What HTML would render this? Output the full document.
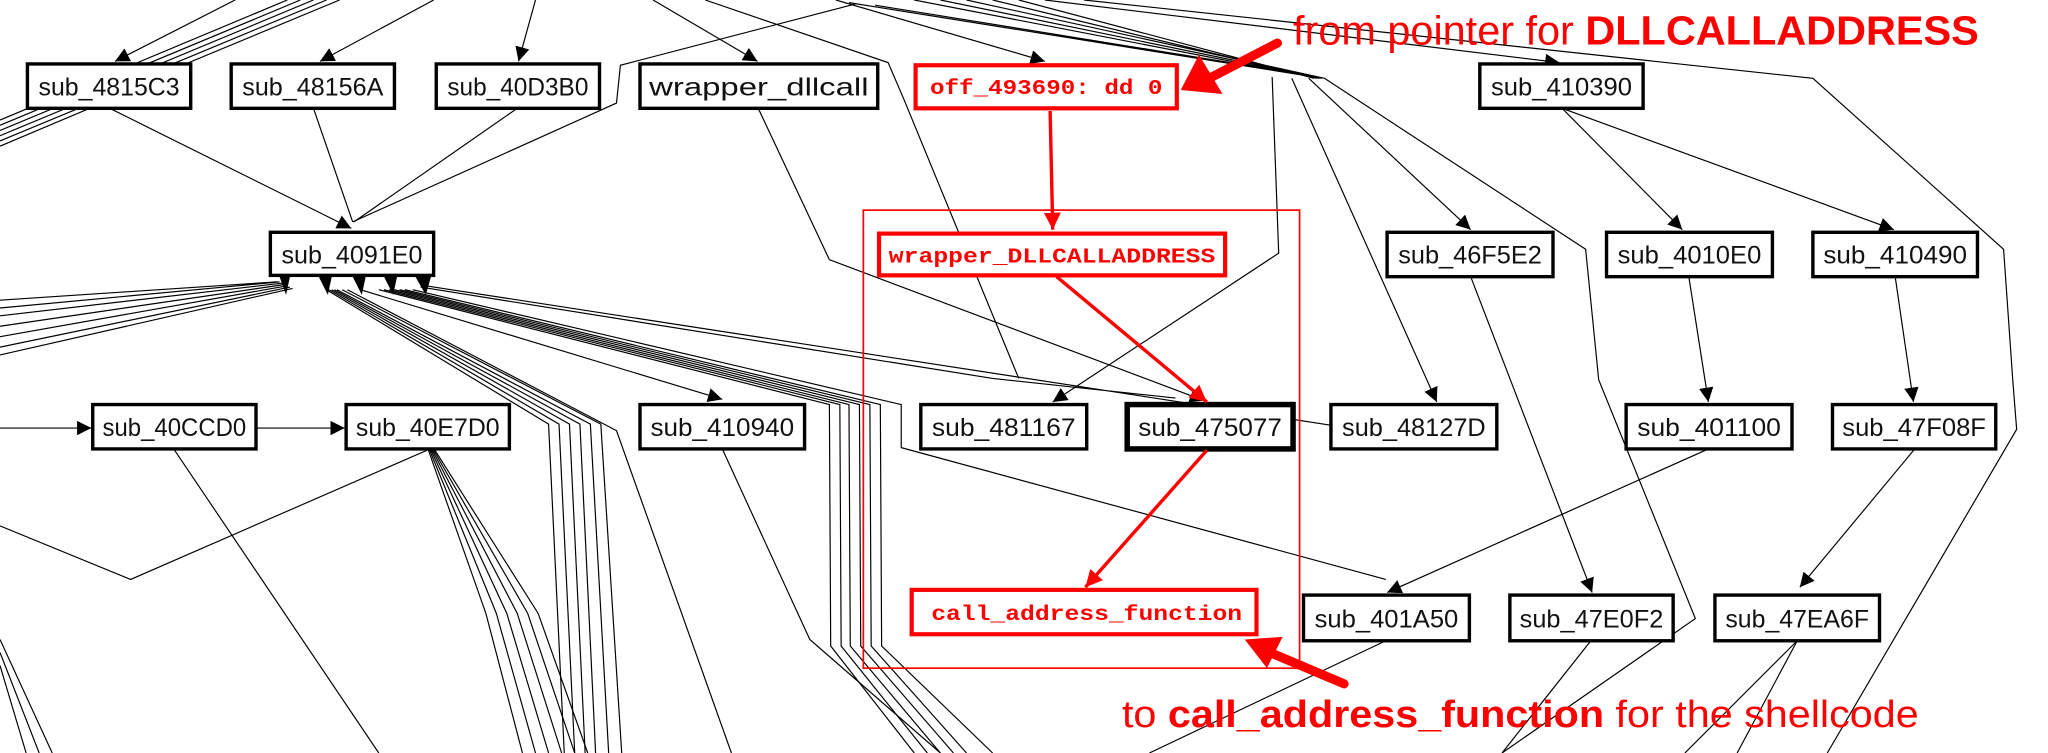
<!DOCTYPE html>
<html><head><meta charset="utf-8">
<style>
html,body{margin:0;padding:0;background:#fff;}
svg{display:block;}
.b{fill:#fff;stroke:#000;stroke-width:2.6;}
.t{font-family:"Liberation Sans Narrow","Liberation Sans",sans-serif;font-size:19px;fill:#111;}
.r{fill:#fff;stroke:#f00;stroke-width:3.2;}
.rt{font-family:"Liberation Mono",monospace;font-weight:bold;font-size:16px;fill:#f00;}
.l{fill:none;stroke:#000;stroke-width:0.9;}
.big{font-family:"Liberation Sans",sans-serif;fill:#f00;}
</style></head>
<body>
<svg width="2048" height="753" viewBox="0 0 1568 577" preserveAspectRatio="none" xmlns="http://www.w3.org/2000/svg">
<defs>
<marker id="a" viewBox="0 0 10 10" refX="10" refY="5" markerWidth="11" markerHeight="11" markerUnits="userSpaceOnUse" orient="auto"><path d="M0,0L10,5L0,10z" fill="#000"/></marker>
<marker id="ra" viewBox="0 0 10 10" refX="10" refY="5" markerWidth="13" markerHeight="13" markerUnits="userSpaceOnUse" orient="auto"><path d="M0,0L10,5L0,10z" fill="#f00"/></marker>
</defs>

<g class="l">
<path d="M0,100 L240,0 M0,104 L250,0 M0,108 L260,0 M0,96 L230,0 M0,92 L220,0"/>
<path d="M0,112 L90,74"/>
<path d="M180,0 L88,47" marker-end="url(#a)"/>
<path d="M332,0 L245,47" marker-end="url(#a)"/>
<path d="M410,0 L397,47" marker-end="url(#a)"/>
<path d="M500,0 L580,47" marker-end="url(#a)"/>
<path d="M640,0 L800,47" marker-end="url(#a)"/>
<path d="M540,0 L680,48 L692,76 L780,290"/>
<path d="M655,3 L475,50 L472,79 L270,170"/>
<path d="M700,0 L1010,60 M720,0 L1012,60 M740,0 L1014,60 M760,0 L1008,60 M780,0 L1006,60 M650,2 L1000,58 M670,4 L1004,58"/>
<path d="M800,0 L1194,48" marker-end="url(#a)"/>
<path d="M830,0 L1388,60 L1534,191 L1541,291 L1544,329 L1399,577"/>
<path d="M974,59 L979,194 L806,308" marker-end="url(#a)"/>
<path d="M989,60 L1100,308" marker-end="url(#a)"/>
<path d="M1002,60 L1126,176" marker-end="url(#a)"/>
<path d="M1014,60 L1214,191 L1224,291 L1298,474 L1150,577"/>
<path d="M84,83 L269,175" marker-end="url(#a)"/>
<path d="M240,83 L270,170"/>
<path d="M396,83 L271,170"/>
<path d="M581,84 L635,199 L922,307" marker-end="url(#a)"/>
<path d="M1196,83 L1288,176" marker-end="url(#a)"/>
<path d="M1196,83 L1450,176" marker-end="url(#a)"/>
<path d="M1126,212 L1219,454" marker-end="url(#a)"/>
<path d="M1293,212 L1308,308" marker-end="url(#a)"/>
<path d="M1451,212 L1465,308" marker-end="url(#a)"/>
<path d="M1308,344 L1062,454" marker-end="url(#a)"/>
<path d="M1466,344 L1378,450" marker-end="url(#a)"/>
<path d="M0,230 L212,216 M0,236 L214,216 M0,242 L216,217 M0,250 L218,218 M0,258 L220,219 M0,266 L222,220 M0,272 L224,221"/>
<path d="M250,222 L420,325 L432,577 M252,222 L428,325 L440,577 M254,222 L436,325 L448,577 M256,222 L444,325 L456,577 M258,222 L452,325 L466,577 M262,222 L460,325 L476,577 M266,222 L472,330 L560,577"/>
<path d="M276,222 L553,306" marker-end="url(#a)"/>
<path d="M290,222 L635,310 L636,495 L700,577 M294,222 L643,310 L644,495 L710,577 M298,222 L650,310 L651,495 L720,577 M302,222 L658,310 L659,495 L730,577 M306,222 L666,310 L667,495 L740,577 M310,222 L674,310 L675,495 L760,577 M316,222 L690,310 L690,343 L1061,444"/>
<path d="M322,220 L760,290 L900,305 M326,219 L1020,326"/>
<path d="M0,328 L70,328" marker-end="url(#a)"/>
<path d="M196,328 L264,328" marker-end="url(#a)"/>
<path d="M133,344 L290,577"/>
<path d="M327,345 L100,444 L0,403"/>
<path d="M328,345 L372,470 L400,577 M329,345 L380,470 L410,577 M330,345 L388,470 L420,577 M331,345 L396,470 L430,577 M332,345 L404,470 L440,577 M333,345 L412,470 L450,577"/>
<path d="M553,344 L620,490 L720,577"/>
<path d="M0,490 L40,577 M0,500 L30,577 M0,510 L20,577"/>
<path d="M1061,491 L880,577 M1218,491 L1150,577 M1376,491 L1290,577 M1376,491 L1330,577"/>
</g>

<rect x="661" y="161" width="334" height="351" fill="none" stroke="#f00" stroke-width="1.3"/>

<g>
<rect class="b" x="21" y="49" width="125" height="34"/><text class="t" x="83.5" y="73" text-anchor="middle" textLength="108" lengthAdjust="spacingAndGlyphs">sub_4815C3</text>
<rect class="b" x="177" y="49" width="125" height="34"/><text class="t" x="239.5" y="73" text-anchor="middle" textLength="108" lengthAdjust="spacingAndGlyphs">sub_48156A</text>
<rect class="b" x="334" y="49" width="125" height="34"/><text class="t" x="396.5" y="73" text-anchor="middle" textLength="108" lengthAdjust="spacingAndGlyphs">sub_40D3B0</text>
<rect class="b" x="490" y="49" width="182" height="34"/><text class="t" x="581" y="73" text-anchor="middle" textLength="168" lengthAdjust="spacingAndGlyphs">wrapper_dllcall</text>
<rect class="b" x="1133" y="49" width="125" height="34"/><text class="t" x="1195.5" y="73" text-anchor="middle" textLength="108" lengthAdjust="spacingAndGlyphs">sub_410390</text>

<rect class="b" x="207" y="178" width="125" height="33"/><text class="t" x="269.5" y="202" text-anchor="middle" textLength="108" lengthAdjust="spacingAndGlyphs">sub_4091E0</text>
<path d="M214,212 L222,212 L219,226z M244,212 L254,212 L251,226z M270,212 L280,212 L277,226z M294,212 L304,212 L301,226z M318,212 L330,212 L326,226z" fill="#000"/>
<rect class="b" x="1062" y="178" width="127" height="34"/><text class="t" x="1125.5" y="202" text-anchor="middle" textLength="110" lengthAdjust="spacingAndGlyphs">sub_46F5E2</text>
<rect class="b" x="1230" y="178" width="127" height="34"/><text class="t" x="1293.5" y="202" text-anchor="middle" textLength="110" lengthAdjust="spacingAndGlyphs">sub_4010E0</text>
<rect class="b" x="1388" y="178" width="126" height="34"/><text class="t" x="1451" y="202" text-anchor="middle" textLength="110" lengthAdjust="spacingAndGlyphs">sub_410490</text>

<rect class="b" x="71" y="310" width="125" height="34"/><text class="t" x="133.5" y="334" text-anchor="middle" textLength="110" lengthAdjust="spacingAndGlyphs">sub_40CCD0</text>
<rect class="b" x="265" y="310" width="125" height="34"/><text class="t" x="327.5" y="334" text-anchor="middle" textLength="110" lengthAdjust="spacingAndGlyphs">sub_40E7D0</text>
<rect class="b" x="490" y="310" width="126" height="34"/><text class="t" x="553" y="334" text-anchor="middle" textLength="110" lengthAdjust="spacingAndGlyphs">sub_410940</text>
<rect class="b" x="705" y="310" width="127" height="34"/><text class="t" x="768.5" y="334" text-anchor="middle" textLength="110" lengthAdjust="spacingAndGlyphs">sub_481167</text>
<rect class="b" x="863" y="310" width="127" height="34" style="stroke-width:4.2"/><text class="t" x="926.5" y="334" text-anchor="middle" textLength="110" lengthAdjust="spacingAndGlyphs">sub_475077</text>
<rect class="b" x="1019" y="310" width="127" height="34"/><text class="t" x="1082.5" y="334" text-anchor="middle" textLength="110" lengthAdjust="spacingAndGlyphs">sub_48127D</text>
<rect class="b" x="1245" y="310" width="127" height="34"/><text class="t" x="1308.5" y="334" text-anchor="middle" textLength="110" lengthAdjust="spacingAndGlyphs">sub_401100</text>
<rect class="b" x="1403" y="310" width="125" height="34"/><text class="t" x="1465.5" y="334" text-anchor="middle" textLength="110" lengthAdjust="spacingAndGlyphs">sub_47F08F</text>

<rect class="b" x="998" y="456" width="127" height="35"/><text class="t" x="1061.5" y="481" text-anchor="middle" textLength="110" lengthAdjust="spacingAndGlyphs">sub_401A50</text>
<rect class="b" x="1156" y="456" width="125" height="35"/><text class="t" x="1218.5" y="481" text-anchor="middle" textLength="110" lengthAdjust="spacingAndGlyphs">sub_47E0F2</text>
<rect class="b" x="1313" y="456" width="126" height="35"/><text class="t" x="1376" y="481" text-anchor="middle" textLength="110" lengthAdjust="spacingAndGlyphs">sub_47EA6F</text>
</g>

<rect class="r" x="701" y="50" width="200" height="33"/><text class="rt" x="801" y="72" text-anchor="middle" textLength="178" lengthAdjust="spacingAndGlyphs">off_493690: dd 0</text>
<rect class="r" x="673" y="179" width="265" height="32"/><text class="rt" x="805.5" y="201" text-anchor="middle" textLength="250" lengthAdjust="spacingAndGlyphs">wrapper_DLLCALLADDRESS</text>
<rect class="r" x="698" y="452" width="264" height="34"/><text class="rt" x="832" y="475" text-anchor="middle" textLength="238" lengthAdjust="spacingAndGlyphs">call_address_function</text>

<g stroke="#f00" stroke-width="2.6" fill="none">
<path d="M804,85 L806,176" marker-end="url(#ra)"/>
<path d="M809,212 L924,308" marker-end="url(#ra)"/>
<path d="M924,345 L831,450" marker-end="url(#ra)"/>
</g>

<path d="M978,33 L922,62" stroke="#f00" stroke-width="7" stroke-linecap="round"/>
<path d="M904,69 L918,42 L936,72z" fill="#f00"/>
<path d="M1029,524 L970,499" stroke="#f00" stroke-width="7" stroke-linecap="round"/>
<path d="M953,490 L982,488 L970,512z" fill="#f00"/>

<text class="big" x="990" y="34" font-size="31" textLength="525" lengthAdjust="spacingAndGlyphs">from pointer for <tspan font-weight="bold">DLLCALLADDRESS</tspan></text>
<text class="big" x="859" y="557" font-size="29" textLength="610" lengthAdjust="spacingAndGlyphs">to <tspan font-weight="bold">call_address_function</tspan> for the shellcode</text>
</svg>
</body></html>
